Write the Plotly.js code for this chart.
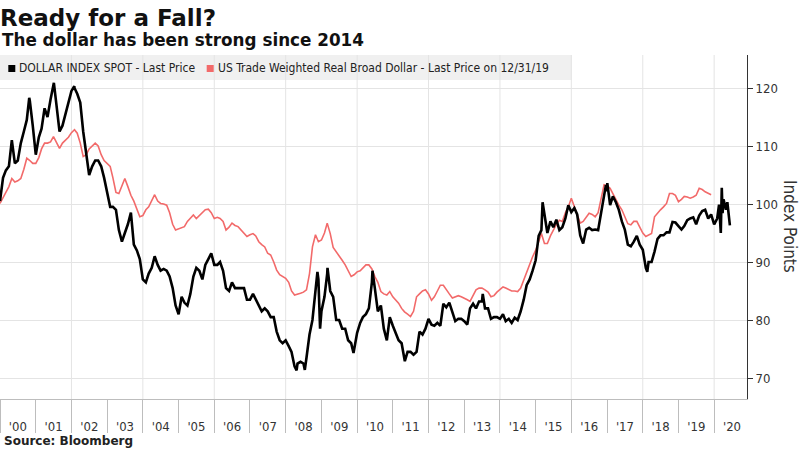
<!DOCTYPE html>
<html><head><meta charset="utf-8">
<script src="https://cdn.plot.ly/plotly-3.0.1.min.js"></script>
<style>html,body{margin:0;padding:0;background:#fff}#chart{width:800px;height:450px}</style>
</head><body><div id="chart"></div>
<script>
// ---- data ----
const seriesNames = ['DOLLAR INDEX SPOT - Last Price', 'US Trade Weighted Real Broad Dollar - Last Price on 12/31/19'];
const seriesColors = ['#000000', '#f26a6a'];

// DXY: monthly readings (first of month) from Jan 2000 to Feb 2020
const dxyFirstYear = 2000;
const dxyMonthly = [
  100.5,104.5,105.8,106.5,111.0,107.0,107.5,110.5,112.5,114.5,117.8,113.5, // 2000
  108.5,111.5,113.0,116.5,115.0,118.0,120.5,117.0,112.5,113.5,115.5,117.5, // 2001
  119.5,120.0,119.0,117.5,112.5,108.5,105.0,106.5,107.5,107.5,106.5,104.5, // 2002
  102.0,99.5,99.5,99.0,95.5,93.5,95.0,96.5,98.5,93.0,92.0,90.5,            // 2003
  87.0,86.5,88.0,89.0,91.0,89.5,88.5,88.8,88.5,87.5,85.5,82.5,             // 2004
  81.0,84.0,83.0,82.5,84.5,87.5,89.0,88.5,87.0,89.5,90.5,91.5,             // 2005
  89.5,89.5,90.0,88.5,85.5,85.0,86.5,85.5,85.5,85.5,85.5,83.5,             // 2006
  83.5,84.5,83.5,82.5,81.5,82.0,81.5,80.5,80.5,78.0,76.5,76.0,             // 2007
  76.5,75.5,74.5,72.0,72.5,72.8,72.5,73.5,77.5,80.0,85.5,87.0,             // 2008
  81.5,84.0,88.0,85.0,84.0,80.0,80.0,78.5,78.5,76.5,76.0,75.0,             // 2009
  77.8,79.5,80.5,81.0,82.0,86.5,85.5,81.5,82.5,78.5,76.5,80.5,             // 2010
  79.0,77.5,76.5,76.0,73.5,74.5,74.5,74.0,74.5,78.0,77.5,78.5,             // 2011
  80.2,79.2,79.0,79.5,79.0,82.8,82.2,83.0,81.5,79.8,80.2,80.2,             // 2012
  79.8,79.2,82.0,82.8,82.0,83.2,83.2,82.0,82.0,80.2,80.5,80.5,             // 2013
  80.2,81.0,79.8,80.2,79.5,80.4,80.0,81.5,83.5,86.0,87.0,88.5,             // 2014
  90.3,94.5,95.5,98.0,95.0,97.0,96.0,97.3,95.5,96.0,97.5,99.8,             // 2015
  98.6,99.3,98.2,94.6,93.2,95.6,95.9,95.5,95.6,95.5,98.3,101.3,            // 2016
  102.2,99.8,101.3,100.3,99.0,97.0,95.6,93.0,92.7,93.5,94.5,93.0,          // 2017
  92.1,89.0,90.0,90.0,91.8,94.0,94.6,94.6,95.1,95.1,96.9,96.8,             // 2018
  96.2,95.6,96.2,97.2,97.5,97.7,96.5,98.0,98.8,99.0,97.5,98.2,             // 2019
  96.5,97.5                                                                // 2020
];
// DXY: extra readings at visible peaks, troughs and the 2020 tail
const dxyExtraDates = ['2000-10-26','2001-07-05','2002-01-30','2008-04-22','2008-07-15','2008-11-21','2008-12-18',
  '2009-03-04','2009-11-25','2010-06-07','2011-05-04','2013-07-09','2015-03-13','2016-12-20','2017-01-03',
  '2018-02-16','2020-02-20','2020-03-09','2020-03-19','2020-03-27','2020-04-06','2020-04-20','2020-05-01',
  '2020-05-15','2020-06-01','2020-06-10'];
const dxyExtraValues = [118.3,120.9,120.3,71.3,71.4,88.3,78.5,
  89.0,74.3,88.5,72.9,84.5,100.3,103.3,103.6,
  88.3,99.9,95.0,102.8,98.4,100.8,99.8,99.0,
  100.3,98.0,96.3];

// Real broad dollar: monthly readings Jan 2000 .. Dec 2019
const realFirstYear = 2000;
const realMonthly = [
  100.1,101.0,102.0,103.0,104.4,103.8,104.0,104.4,106.0,107.9,107.5,107.0, // 2000
  107.0,108.0,109.5,110.5,110.5,110.7,111.6,110.5,109.6,110.5,111.0,111.5, // 2001
  112.3,112.8,112.2,110.5,108.2,108.5,109.5,110.0,110.5,110.0,108.5,107.5, // 2002
  107.0,106.5,104.5,102.0,101.8,103.0,104.4,103.0,101.5,100.5,99.0,97.8,   // 2003
  98.0,99.0,99.5,100.5,101.6,100.5,100.1,100.0,99.8,98.5,96.5,95.5,        // 2004
  95.7,96.0,96.1,97.0,97.5,98.1,97.5,98.0,98.5,99.0,99.1,98.5,             // 2005
  97.5,97.7,97.5,97.0,95.5,96.0,96.7,96.3,96.1,95.5,95.0,94.4,             // 2006
  94.7,94.9,94.5,93.5,93.0,92.6,91.5,91.2,90.0,88.6,87.8,87.5,             // 2007
  87.2,86.5,85.0,84.3,84.4,84.6,84.8,85.2,88.0,92.6,94.7,93.5,             // 2008
  93.8,95.0,96.7,94.9,92.5,91.8,91.0,90.3,89.5,88.5,87.5,87.8,             // 2009
  88.3,88.5,89.0,89.5,89.5,88.8,87.5,86.5,84.9,84.5,84.3,84.9,             // 2010
  84.0,83.5,82.9,82.0,81.4,81.0,80.6,81.5,84.0,84.5,85.0,85.2,             // 2011
  84.5,83.4,84.0,85.0,86.0,86.0,85.2,84.5,83.8,84.0,84.2,84.0,             // 2012
  83.8,83.5,83.2,84.3,85.2,85.5,85.5,85.2,84.8,84.0,84.2,84.8,             // 2013
  85.3,85.7,85.5,85.2,85.0,85.0,84.9,85.5,86.9,88.0,89.5,90.9,             // 2014
  92.0,93.5,94.9,93.2,93.2,94.5,95.5,96.5,97.2,97.0,98.5,99.5,             // 2015
  101.0,99.5,98.0,96.7,97.0,97.8,98.4,98.2,97.8,98.5,101.0,103.3,          // 2016
  103.1,102.7,101.8,100.7,99.8,99.0,97.8,96.6,96.4,97.0,97.0,96.0,         // 2017
  95.0,94.4,94.6,94.9,97.8,98.5,99.0,99.5,100.1,101.8,101.8,101.5,         // 2018
  100.4,100.8,101.3,101.2,101.0,101.2,101.5,102.7,102.5,102.1,101.8,101.6  // 2019
];

const yTickValues = [70, 80, 90, 100, 110, 120];
const gridYears = ['2002','2004','2006','2008','2010','2012','2014','2016','2018','2020'];

// ---- build ----
function monthDates(firstYear, n) {
  const out = [];
  for (let i = 0; i < n; i++) {
    const y = firstYear + Math.floor(i / 12), m = (i % 12) + 1;
    out.push(y + '-' + String(m).padStart(2, '0') + '-01');
  }
  return out;
}
const dxyPairs = monthDates(dxyFirstYear, dxyMonthly.length).map((d, i) => [d, dxyMonthly[i]])
  .concat(dxyExtraDates.map((d, i) => [d, dxyExtraValues[i]]))
  .sort((a, b) => a[0] < b[0] ? -1 : a[0] > b[0] ? 1 : 0);
const dxyX = dxyPairs.map(p => p[0]), dxyY = dxyPairs.map(p => p[1]);
const realX = monthDates(realFirstYear, realMonthly.length);

const traces = [
  {x: realX, y: realMonthly, type: 'scatter', mode: 'lines', name: seriesNames[1],
   line: {color: seriesColors[1], width: 1.6}, showlegend: false, hoverinfo: 'skip'},
  {x: dxyX, y: dxyY, type: 'scatter', mode: 'lines', name: seriesNames[0],
   line: {color: seriesColors[0], width: 2.6}, showlegend: false, hoverinfo: 'skip'}
];

const PW = 747, PH = 344, TOP = 55;          // plot area in px
const px = v => v / PW;                       // px -> paper x
const py = v => 1 - (v - TOP) / PH;           // px -> paper y

const shapes = [
  {type: 'rect', xref: 'paper', yref: 'paper', x0: 0, x1: px(571.7), y0: py(80), y1: 1,
   fillcolor: '#f0f0f0', line: {width: 0}, layer: 'below'},
  {type: 'rect', xref: 'paper', yref: 'paper', x0: px(8.3), x1: px(15.3), y0: py(72), y1: py(65),
   fillcolor: seriesColors[0], line: {width: 0}},
  {type: 'rect', xref: 'paper', yref: 'paper', x0: px(206.7), x1: px(213.7), y0: py(72), y1: py(65),
   fillcolor: seriesColors[1], line: {width: 0}}
].concat(gridYears.map(y => ({type: 'line', xref: 'x', yref: 'paper', x0: y + '-01-01', x1: y + '-01-01',
   y0: 0, y1: 1, line: {color: '#e4e4e4', width: 1}, layer: 'below'})));

const legendFont = {family: 'DejaVu Sans Condensed', size: 12, color: '#222'};
const annotations = [
  {xref: 'paper', yref: 'paper', x: px(17), y: py(68.5), xanchor: 'left', yanchor: 'middle',
   text: seriesNames[0], showarrow: false, font: legendFont},
  {xref: 'paper', yref: 'paper', x: px(216), y: py(68.5), xanchor: 'left', yanchor: 'middle',
   text: seriesNames[1], showarrow: false, font: legendFont},
  {xref: 'paper', yref: 'paper', x: 0, y: py(40), xanchor: 'left', yanchor: 'middle',
   text: '<b>The dollar has been strong since 2014</b>', showarrow: false,
   font: {family: 'DejaVu Sans', size: 16.8, color: '#111'}},
  {xref: 'paper', yref: 'paper', x: px(2), y: py(441), xanchor: 'left', yanchor: 'middle',
   text: '<b>Source: Bloomberg</b>', showarrow: false,
   font: {family: 'DejaVu Sans', size: 12, color: '#222'}},
  {xref: 'paper', yref: 'paper', x: px(790), y: py(226), xanchor: 'center', yanchor: 'middle',
   text: 'Index Points', textangle: 90, showarrow: false,
   font: {family: 'DejaVu Sans Condensed', size: 17, color: '#333'}}
];

const layout = {
  width: 800, height: 450, autosize: false,
  margin: {l: 0, r: 800 - PW, t: TOP, b: 450 - TOP - PH, pad: 0},
  paper_bgcolor: '#ffffff', plot_bgcolor: 'rgba(0,0,0,0)',
  title: {text: '<b>Ready for a Fall?</b>', x: 0, xref: 'container', xanchor: 'left',
          y: 0.978, yref: 'container', yanchor: 'top',
          font: {family: 'DejaVu Sans', size: 23, color: '#111'}},
  showlegend: false,
  xaxis: {type: 'date', range: ['2000-01-01', '2020-12-02'], dtick: 'M12', tick0: '2000-01-01',
          tickformat: "'%y", ticklabelmode: 'period', ticks: 'outside', ticklen: 33,
          tickcolor: '#bdbdbd', tickwidth: 1, showgrid: false, showline: true, linecolor: '#bdbdbd',
          ticklabelstandoff: -18, tickfont: {family: 'DejaVu Sans Condensed', size: 13, color: '#333'},
          zeroline: false, fixedrange: true},
  yaxis: {side: 'right', range: [66.38, 125.69], tickvals: yTickValues, ticks: 'outside', ticklen: 5,
          tickcolor: '#333', showline: true, linecolor: '#333', linewidth: 1,
          gridcolor: '#e4e4e4', zeroline: false, fixedrange: true,
          tickfont: {family: 'DejaVu Sans Condensed', size: 13, color: '#333'}},
  shapes: shapes,
  annotations: annotations
};

Plotly.newPlot('chart', traces, layout, {displayModeBar: false, staticPlot: true});
</script></body></html>
